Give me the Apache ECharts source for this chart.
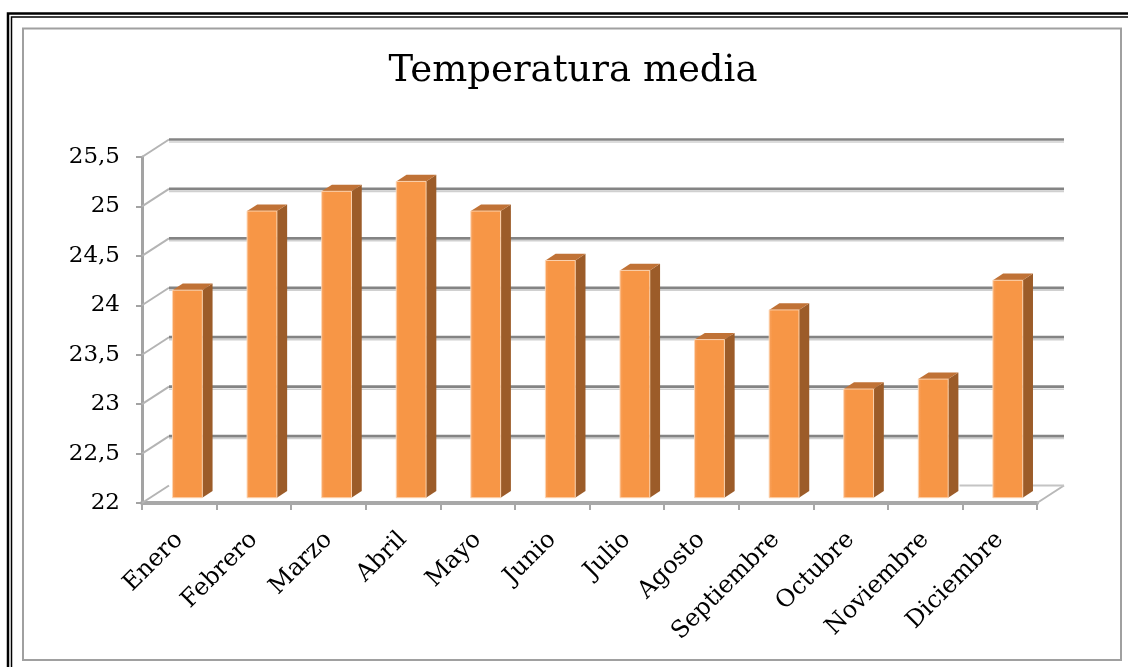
<!DOCTYPE html>
<html>
<head>
<meta charset="utf-8">
<script src="https://cdn.jsdelivr.net/npm/echarts@6/dist/echarts.min.js"></script>
<style>
  html, body { margin: 0; padding: 0; background: #ffffff; }
  #chart { width: 1128px; height: 667px; }
</style>
</head>
<body>
<div id="chart"></div>
<script>
// Monthly mean temperature (°C)
const months = ['Enero', 'Febrero', 'Marzo', 'Abril', 'Mayo', 'Junio',
  'Julio', 'Agosto', 'Septiembre', 'Octubre', 'Noviembre', 'Diciembre'];
const temps = [24.1, 24.9, 25.1, 25.2, 24.9, 24.4, 24.3, 23.6, 23.9, 23.1, 23.2, 24.2];

// Value axis ticks
const yMin = 22;
const yMax = 25.5;
const yStep = 0.5;
const yTicks = [22, 22.5, 23, 23.5, 24, 24.5, 25, 25.5];

// Oblique 3D projection: screen offset of the back wall from the front plane
const DX = 27, DY = -17.5;
const BAR_FRONT = 0.3;   // depth fraction where the column front face sits
const BAR_DEPTH = 0.38;  // depth of each column as a fraction of the full depth
const FONT = '"DejaVu Serif", "Liberation Serif", serif';

const chart = echarts.init(document.getElementById('chart'), null, { renderer: 'canvas' });

function renderWall(params, api) {
  const cs = params.coordSys;
  const v = api.value(1);
  const y = api.coord([0, v])[1];
  const x0 = cs.x, x1 = cs.x + cs.width;
  const children = [];
  // side-wall diagonal from the front axis to the back wall
  children.push({
    type: 'line',
    shape: { x1: x0, y1: y, x2: x0 + DX, y2: y + DY },
    style: { stroke: '#b4b4b4', lineWidth: 2 }
  });
  if (v === yMin) {
    // floor: right edge and the visible part of its back edge
    children.push({
      type: 'line',
      shape: { x1: x1, y1: y, x2: x1 + DX, y2: y + DY },
      style: { stroke: '#b8b8b8', lineWidth: 2 }
    });
    const bx = cs.x + cs.width * (10.6 / months.length) + DX;
    children.push({
      type: 'line',
      shape: { x1: bx, y1: y + DY, x2: x1 + DX, y2: y + DY },
      style: { stroke: '#c4c4c4', lineWidth: 2 }
    });
  } else {
    // back-wall gridline with a soft shadow under it
    children.push({
      type: 'line',
      shape: { x1: x0 + DX, y1: y + DY + 2.5, x2: x1 + DX, y2: y + DY + 2.5 },
      style: { stroke: '#d0d0d0', lineWidth: 1.5 }
    });
    children.push({
      type: 'line',
      shape: { x1: x0 + DX, y1: y + DY, x2: x1 + DX, y2: y + DY },
      style: { stroke: '#848484', lineWidth: 2.7 }
    });
  }
  return { type: 'group', children: children };
}

function renderColumn(params, api) {
  const idx = api.value(0);
  const v = api.value(1);
  const top = api.coord([idx, v]);
  const base = api.coord([idx, yMin]);
  const band = api.size([1, 0])[0];
  const w = band * 0.4;
  const fx = BAR_FRONT * DX, fy = BAR_FRONT * DY;
  const bx = BAR_DEPTH * DX, by = BAR_DEPTH * DY;
  const left = top[0] - w / 2 + fx;
  const right = left + w;
  const ty = top[1] + fy;
  const byy = base[1] + fy;
  return {
    type: 'group',
    children: [
      {
        type: 'polygon',
        shape: { points: [[right, ty], [right + bx, ty + by], [right + bx, byy + by], [right, byy]] },
        style: { fill: '#9c5c29' }
      },
      {
        type: 'polygon',
        shape: { points: [[left, ty], [right, ty], [right + bx, ty + by], [left + bx, ty + by]] },
        style: { fill: '#c07236' }
      },
      {
        type: 'rect',
        shape: { x: left, y: ty, width: w, height: byy - ty },
        style: {
          fill: new echarts.graphic.LinearGradient(0, 0, 1, 0, [
            { offset: 0, color: '#f9a462' },
            { offset: 0.12, color: '#f79646' },
            { offset: 1, color: '#f79646' }
          ]),
          stroke: 'rgba(253,214,180,0.9)',
          lineWidth: 1
        }
      }
    ]
  };
}

const option = {
  backgroundColor: '#ffffff',
  animation: false,
  title: {
    text: 'Temperatura media',
    left: 568,
    top: 48,
    textAlign: 'center',
    textStyle: { fontFamily: FONT, fontSize: 37, fontWeight: 'normal', color: '#000000' }
  },
  graphic: [
    { type: 'rect', shape: { x: 8, y: 13.5, width: 1300, height: 900 },
      style: { fill: null, stroke: '#000000', lineWidth: 2.5 }, silent: true },
    { type: 'rect', shape: { x: 11.5, y: 17, width: 1300, height: 900 },
      style: { fill: null, stroke: '#000000', lineWidth: 1.5 }, silent: true },
    { type: 'rect', shape: { x: 23, y: 28.5, width: 1098, height: 631.5 },
      style: { fill: null, stroke: '#a0a0a0', lineWidth: 2 }, silent: true }
  ],
  grid: { left: 142, top: 157, right: 91, bottom: 164, containLabel: false },
  xAxis: {
    type: 'category',
    data: months,
    boundaryGap: true,
    axisLine: { show: true, lineStyle: { color: '#a8a8a8', width: 4 } },
    axisTick: { show: true, length: 7, lineStyle: { color: '#a8a8a8', width: 2 } },
    axisLabel: { rotate: 45, interval: 0, margin: 33, fontFamily: FONT, fontSize: 24, color: '#000000' },
    splitLine: { show: false }
  },
  yAxis: {
    type: 'value',
    min: yMin,
    max: yMax,
    interval: yStep,
    axisLine: { show: true, lineStyle: { color: '#a3a3a3', width: 3 } },
    axisTick: { show: true, length: 6, lineStyle: { color: '#a3a3a3', width: 2 } },
    axisLabel: {
      margin: 22, fontFamily: FONT, fontSize: 23, color: '#000000',
      formatter: function (v) { return String(v).replace('.', ','); }
    },
    splitLine: { show: false }
  },
  series: [
    {
      type: 'custom',
      name: 'pared',
      silent: true,
      renderItem: renderWall,
      encode: { x: 0, y: 1 },
      data: yTicks.map(function (t) { return [0, t]; }),
      z: 1
    },
    {
      type: 'custom',
      name: 'Temperatura media',
      renderItem: renderColumn,
      encode: { x: 0, y: 1 },
      data: temps.map(function (t, i) { return [i, t]; }),
      z: 2
    }
  ]
};

chart.setOption(option);
</script>
</body>
</html>
